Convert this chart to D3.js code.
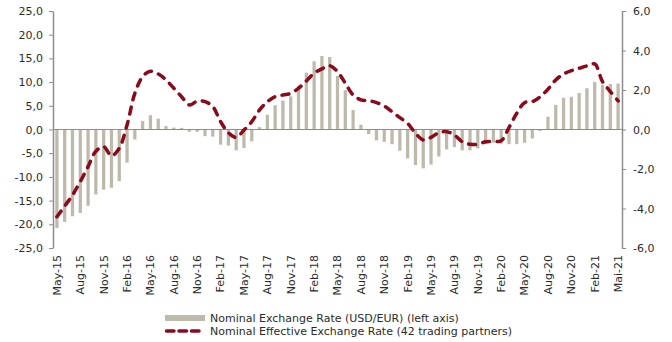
<!DOCTYPE html>
<html>
<head>
<meta charset="utf-8">
<script src="https://cdn.jsdelivr.net/npm/d3@7"></script>
<style>
  html, body { margin: 0; padding: 0; background: #fff; }
  svg text { font-family: "DejaVu Sans", Verdana, sans-serif; font-size: 11px; fill: #2b2b2b; }
</style>
</head>
<body>
<svg id="chart" width="672" height="342"></svg>
<script>
// Monthly observations, May 2015 – May 2021
const months = [
  "May-15","Jun-15","Jul-15","Aug-15","Sep-15","Oct-15","Nov-15","Dec-15",
  "Jan-16","Feb-16","Mar-16","Apr-16","May-16","Jun-16","Jul-16","Aug-16","Sep-16","Oct-16","Nov-16","Dec-16",
  "Jan-17","Feb-17","Mar-17","Apr-17","May-17","Jun-17","Jul-17","Aug-17","Sep-17","Oct-17","Nov-17","Dec-17",
  "Jan-18","Feb-18","Mar-18","Apr-18","May-18","Jun-18","Jul-18","Aug-18","Sep-18","Oct-18","Nov-18","Dec-18",
  "Jan-19","Feb-19","Mar-19","Apr-19","May-19","Jun-19","Jul-19","Aug-19","Sep-19","Oct-19","Nov-19","Dec-19",
  "Jan-20","Feb-20","Mar-20","Apr-20","May-20","Jun-20","Jul-20","Aug-20","Sep-20","Oct-20","Nov-20","Dec-20",
  "Jan-21","Feb-21","Mar-21","Apr-21","Mai-21"
];

// Nominal exchange rate USD/EUR, % change (left axis)
const usdEur = [
  -20.8, -19.5, -18.3, -17.6, -16.1, -13.7, -12.7, -12.3, -10.9, -7.0,
  -2.1, 1.8, 3.0, 2.3, 0.7, 0.4, 0.35, -0.5, -0.5, -1.4,
  -1.5, -3.2, -3.4, -4.4, -3.9, -2.5, 0.5, 3.1, 5.1, 6.1,
  7.0, 9.2, 12.0, 14.4, 15.5, 15.3, 11.3, 8.3, 4.1, 1.0,
  -1.0, -2.3, -2.6, -3.1, -4.5, -6.1, -7.5, -8.2, -7.4, -5.7,
  -4.2, -3.7, -4.4, -4.4, -4.0, -3.1, -2.8, -3.0, -3.1, -3.1,
  -2.8, -1.9, -0.3, 2.7, 5.2, 6.7, 6.9, 7.7, 8.7, 10.0,
  9.4, 9.6, 9.7
];

// Nominal effective exchange rate, 42 trading partners, % change (right axis)
const neer = [
  -4.42, -3.88, -3.32, -2.64, -1.88, -1.10, -0.87, -1.33, -0.95, 0.23,
  1.83, 2.68, 2.95, 2.81, 2.51, 2.09, 1.66, 1.24, 1.44, 1.41,
  1.16, 0.40, -0.16, -0.40, -0.03, 0.40, 0.99, 1.41, 1.66, 1.75,
  1.83, 2.09, 2.46, 2.85, 3.07, 3.23, 2.93, 2.34, 1.75, 1.50,
  1.46, 1.36, 1.19, 0.90, 0.60, 0.31, -0.19, -0.53, -0.40, -0.16,
  -0.11, -0.28, -0.62, -0.75, -0.75, -0.62, -0.60, -0.57, 0.10, 0.82,
  1.36, 1.41, 1.66, 2.04, 2.51, 2.81, 2.98, 3.10, 3.22, 3.32,
  2.42, 1.92, 1.45
];

const leftTicks = [-25, -20, -15, -10, -5, 0, 5, 10, 15, 20, 25];
const rightTicks = [-6, -4, -2, 0, 2, 4, 6];
const shownMonths = [
  "May-15","Aug-15","Nov-15","Feb-16","May-16","Aug-16","Nov-16","Feb-17","May-17",
  "Aug-17","Nov-17","Feb-18","May-18","Aug-18","Nov-18","Feb-19","May-19","Aug-19",
  "Nov-19","Feb-20","May-20","Aug-20","Nov-20","Feb-21","Mai-21"
];

const legendLabels = [
  "Nominal Exchange Rate (USD/EUR) (left axis)",
  "Nominal Effective Exchange Rate (42 trading partners)"
];

const barColor = "#bdbaac";
const lineColor = "#8a0a1c";
const axisColor = "#8c8c8c";

const svg = d3.select("#chart");
const plot = { left: 53, right: 622, top: 11, bottom: 248 };

const x = d3.scaleBand()
  .domain(months)
  .range([plot.left, plot.right])
  .paddingInner(0.58)
  .paddingOuter(0.29);

const yL = d3.scaleLinear().domain([-25, 25]).range([plot.bottom, plot.top]);
const yR = d3.scaleLinear().domain([-6, 6]).range([plot.bottom, plot.top]);

const fmt = d => d.toFixed(1).replace(".", ",");

// Bars
svg.append("g")
  .selectAll("rect")
  .data(months.map((m, i) => ({ m, v: usdEur[i] })))
  .join("rect")
  .attr("x", d => x(d.m))
  .attr("width", x.bandwidth())
  .attr("y", d => yL(Math.max(0, d.v)))
  .attr("height", d => Math.abs(yL(d.v) - yL(0)))
  .attr("fill", barColor);

// Zero line (category axis)
svg.append("line")
  .attr("x1", plot.left).attr("x2", plot.right)
  .attr("y1", yL(0)).attr("y2", yL(0))
  .attr("stroke", axisColor).attr("stroke-width", 1);

// Left axis
const gL = svg.append("g")
  .attr("transform", `translate(${plot.left},0)`)
  .call(d3.axisLeft(yL).tickValues(leftTicks).tickFormat(fmt).tickSize(4).tickSizeOuter(0).tickPadding(6));

// Right axis
const gR = svg.append("g")
  .attr("transform", `translate(${plot.right},0)`)
  .call(d3.axisRight(yR).tickValues(rightTicks).tickFormat(fmt).tickSize(4).tickSizeOuter(0).tickPadding(7));

[gL, gR].forEach(g => {
  g.select(".domain").attr("stroke", axisColor).attr("stroke-width", 1.5);
  g.selectAll(".tick line").attr("stroke", axisColor).attr("stroke-width", 1);
  g.selectAll(".tick text").attr("fill", "#2b2b2b")
    .style("font-family", "'DejaVu Sans', Verdana, sans-serif").style("font-size", "11px");
});

// Dashed line
const line = d3.line()
  .x((d, i) => x(months[i]) + x.bandwidth() / 2)
  .y(d => yR(d))
  .curve(d3.curveCatmullRom.alpha(0.5));

svg.append("path")
  .datum(neer)
  .attr("d", line)
  .attr("fill", "none")
  .attr("stroke", lineColor)
  .attr("stroke-width", 3.5)
  .attr("stroke-linecap", "round")
  .attr("stroke-dasharray", "7,7.5");

// Category labels, rotated
svg.append("g")
  .selectAll("text")
  .data(shownMonths)
  .join("text")
  .attr("transform", d => `translate(${x(d) + x.bandwidth() / 2},255) rotate(-90)`)
  .attr("text-anchor", "end")
  .attr("dy", "0.35em")
  .text(d => d);

// Legend
const lg = svg.append("g");
lg.append("rect")
  .attr("x", 165).attr("y", 315).attr("width", 40).attr("height", 6)
  .attr("fill", barColor);
lg.append("line")
  .attr("x1", 166.5).attr("x2", 204).attr("y1", 331).attr("y2", 331)
  .attr("stroke", lineColor).attr("stroke-width", 3.5)
  .attr("stroke-linecap", "round").attr("stroke-dasharray", "7.5,5");
lg.selectAll("text.lbl")
  .data(legendLabels)
  .join("text")
  .attr("class", "lbl")
  .attr("x", 210)
  .attr("y", (d, i) => 318 + i * 13)
  .attr("dy", "0.35em")
  .text(d => d);
</script>
</body>
</html>
